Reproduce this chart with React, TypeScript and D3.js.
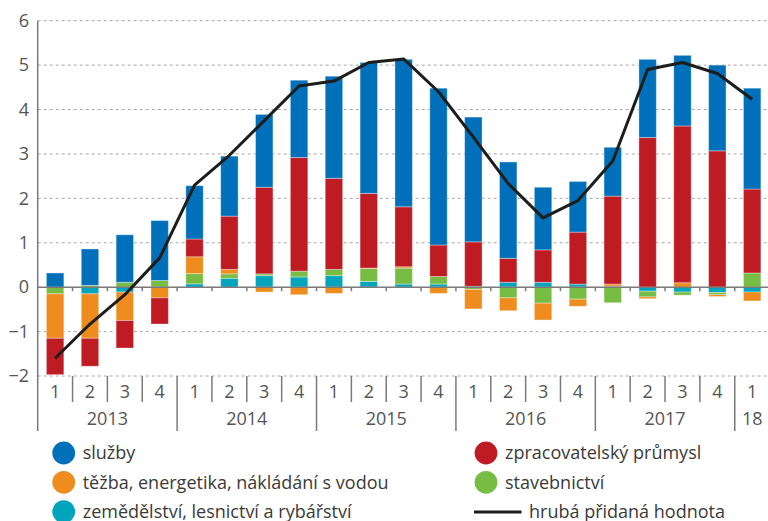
import React from "react";
import * as d3 from "d3";

const quarters = ["1","2","3","4","1","2","3","4","1","2","3","4","1","2","3","4","1","2","3","4","1"];
const years = ["2013","2014","2015","2016","2017","18"];
const yearStarts = [0, 4, 8, 12, 16, 20];
const yearEnds = [4, 8, 12, 16, 20, 21];
const yTicks = [-2, -1, 0, 1, 2, 3, 4, 5, 6];

const zemedelstvi = [0, -0.15, -0.11, 0, 0.075, 0.2, 0.26, 0.23, 0.26, 0.13, 0.07, 0.07, 0.02, 0.11, 0.11, 0.07, 0.02, -0.09, -0.11, -0.12, -0.11];
const stavebnictvi = [-0.15, 0.04, 0.11, 0.15, 0.23, 0.1, 0.04, 0.13, 0.14, 0.29, 0.36, 0.17, -0.05, -0.24, -0.36, -0.27, -0.35, -0.13, -0.07, -0.05, 0.32];
const tezba = [-1.0, -1.0, -0.64, -0.24, 0.38, 0.1, -0.11, -0.17, -0.14, 0.01, 0.03, -0.14, -0.44, -0.29, -0.38, -0.16, 0.05, -0.04, 0.1, -0.04, -0.2];
const zpracovatelsky = [-0.82, -0.63, -0.62, -0.59, 0.4, 1.2, 1.95, 2.56, 2.05, 1.68, 1.35, 0.71, 1.0, 0.54, 0.73, 1.17, 1.98, 3.37, 3.53, 3.07, 1.89];
const sluzby = [0.32, 0.82, 1.07, 1.35, 1.2, 1.35, 1.64, 1.74, 2.3, 2.95, 3.32, 3.53, 2.81, 2.17, 1.41, 1.14, 1.1, 1.76, 1.59, 1.93, 2.27];
const hph = [-1.6, -0.83, -0.17, 0.66, 2.3, 2.97, 3.75, 4.53, 4.64, 5.06, 5.14, 4.4, 3.38, 2.33, 1.56, 1.95, 2.84, 4.9, 5.06, 4.81, 4.23];

const seriesKeys = ["zem", "stav", "tez", "zpr", "sl"];
const seriesValues = [zemedelstvi, stavebnictvi, tezba, zpracovatelsky, sluzby];
const seriesColors = ["#00a5bd", "#77bc43", "#ee8c1e", "#be1b23", "#0070ba"];

const legendItems = [
  { label: "služby", color: "#0070ba", col: 0, row: 0 },
  { label: "těžba, energetika, nákládání s vodou", color: "#ee8c1e", col: 0, row: 1 },
  { label: "zemědělství, lesnictví a rybářství", color: "#00a5bd", col: 0, row: 2 },
  { label: "zpracovatelský průmysl", color: "#be1b23", col: 1, row: 0 },
  { label: "stavebnictví", color: "#77bc43", col: 1, row: 1 },
];

export default function App() {
  const W = 768, H = 521;
  const x0 = 37.7, x1 = 769.6;
  const idx = quarters.map((_, i) => i);
  const x = d3.scaleBand<number>().domain(idx).range([x0, x1]).paddingInner(0.5).paddingOuter(0.25);
  const y = d3.scaleLinear().domain([-2, 6]).range([376, 20.7]);
  const step = x.step();

  const table = idx.map((i) => {
    const o: Record<string, number> = {};
    seriesKeys.forEach((k, s) => (o[k] = seriesValues[s][i]));
    return o;
  });
  const stacked = d3.stack<Record<string, number>>().keys(seriesKeys).offset(d3.stackOffsetDiverging)(table);

  const cxOf = (i: number) => (x(i) as number) + x.bandwidth() / 2;
  const line = d3.line<number>().x((_, i) => cxOf(i)).y((d) => y(d));
  const boundary = (i: number) => x0 + i * step;

  const font = "'Open Sans', sans-serif";
  const axisColor = "#7a7a7a";

  return (
    <svg width={W} height={H} style={{ position: "absolute", left: 0, top: 0, background: "#fff" }} fontFamily={font}>
      {yTicks.filter((t) => t !== 0).map((t) => (
        <line key={"g" + t} x1={x0} x2={W} y1={y(t)} y2={y(t)} stroke="#a8a8a8" strokeWidth={1} strokeDasharray="3,3" />
      ))}
      {yTicks.map((t) => (
        <text key={"yt" + t} x={29} y={y(t)} dy="0.35em" textAnchor="end" fontSize={18} fill="#555">
          {t < 0 ? "\u2212" + Math.abs(t) : t}
        </text>
      ))}
      {stacked.map((s, si) => (
        <g key={s.key} fill={seriesColors[si]}>
          {s.map((d, i) => {
            const top = y(Math.max(d[0], d[1]));
            const bot = y(Math.min(d[0], d[1]));
            if (bot - top < 0.01) return null;
            return (
              <rect key={i} x={x(i)} y={top} width={x.bandwidth()} height={bot - top}
                stroke="#ffffff" strokeOpacity={0.35} strokeWidth={1} />
            );
          })}
        </g>
      ))}
      <line x1={x0} x2={W} y1={y(0)} y2={y(0)} stroke={axisColor} strokeWidth={1.5} />
      {idx.slice(1).map((i) => (
        <line key={"zt" + i} x1={boundary(i)} x2={boundary(i)} y1={y(0)} y2={y(0) + 4} stroke={axisColor} strokeWidth={1.5} />
      ))}
      <line x1={x0} x2={x0} y1={y(6)} y2={431} stroke={axisColor} strokeWidth={1.5} />
      <path d={line(hph) || ""} fill="none" stroke="#1d1d1b" strokeWidth={3} strokeLinejoin="round" />
      {idx.slice(1).map((i) => (
        <line key={"qs" + i} x1={boundary(i)} x2={boundary(i)} y1={376} y2={yearStarts.includes(i) ? 431 : 402} stroke={axisColor} strokeWidth={1.5} />
      ))}
      {quarters.map((q, i) => (
        <text key={"q" + i} x={cxOf(i)} y={392} dy="0.35em" textAnchor="middle" fontSize={18} fill="#555">{q}</text>
      ))}
      {years.map((yr, k) => (
        <text key={"y" + yr} x={k === 5 ? cxOf(20) : (boundary(yearStarts[k]) + boundary(yearEnds[k])) / 2} y={419} dy="0.35em" textAnchor="middle" fontSize={18} fill="#555">{yr}</text>
      ))}
      {legendItems.map((it) => {
        const cx = it.col === 0 ? 63.7 : 486;
        const cy = 453 + it.row * 29.3;
        return (
          <g key={it.label}>
            <circle cx={cx} cy={cy} r={11.4} fill={it.color} />
            <text x={cx + 19} y={cy} dy="0.35em" fontSize={18} fill="#3a3a3a">{it.label}</text>
          </g>
        );
      })}
      <line x1={474} x2={521.5} y1={512} y2={512} stroke="#1d1d1b" strokeWidth={3} />
      <text x={529} y={512} dy="0.35em" fontSize={18} fill="#3a3a3a">hrubá přidaná hodnota</text>
    </svg>
  );
}
